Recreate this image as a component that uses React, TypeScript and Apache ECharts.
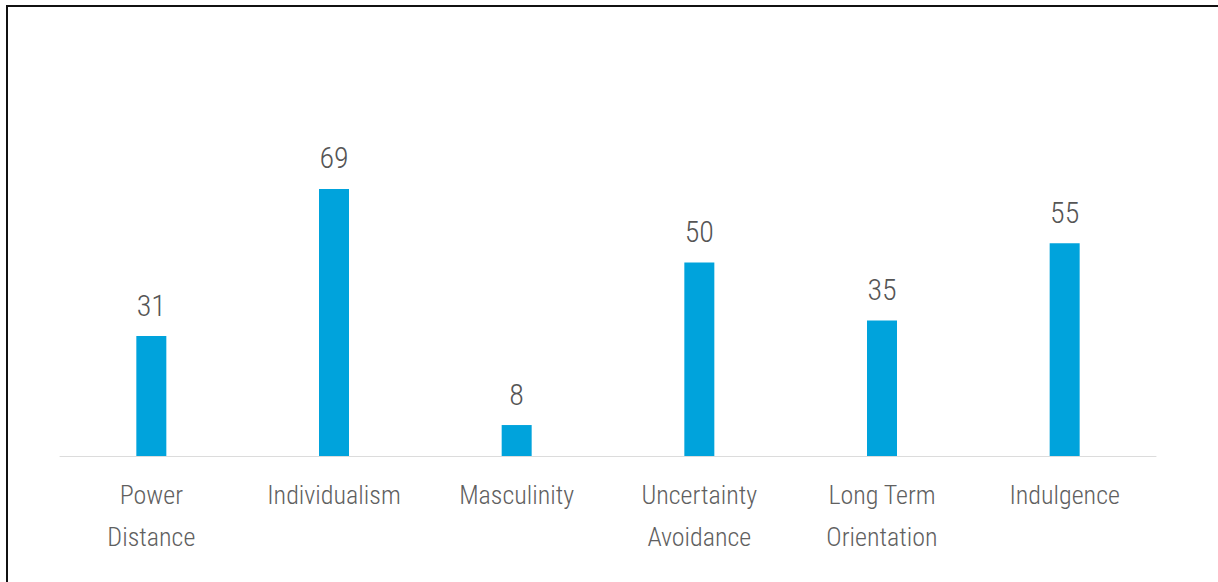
import React, { useEffect, useRef } from "react";
import * as echarts from "echarts";

const categories = [
  "Power\nDistance",
  "Individualism",
  "Masculinity",
  "Uncertainty\nAvoidance",
  "Long Term\nOrientation",
  "Indulgence",
];
const scores = [31, 69, 8, 50, 35, 55];

const FONT = "'Roboto Condensed', 'Liberation Sans Narrow', Roboto, sans-serif";

export default function App() {
  const ref = useRef<HTMLDivElement>(null);

  useEffect(() => {
    if (!ref.current) return;
    const chart = echarts.init(ref.current, undefined, { renderer: "svg" });
    chart.setOption({
      animation: false,
      backgroundColor: "#ffffff",
      grid: { left: 60, right: 62, top: 69, bottom: 126 },
      xAxis: {
        type: "category",
        data: categories,
        axisLine: { lineStyle: { color: "#dcdcdc", width: 1 } },
        axisTick: { show: false },
        axisLabel: {
          color: "#606060",
          fontFamily: FONT,
          fontWeight: 300,
          fontSize: 26,
          lineHeight: 42,
          margin: 18,
          interval: 0,
        },
      },
      yAxis: {
        type: "value",
        min: 0,
        max: 100,
        show: false,
        splitLine: { show: false },
      },
      series: [
        {
          type: "bar",
          data: scores,
          barWidth: 30,
          itemStyle: { color: "#00a3dc" },
          label: {
            show: true,
            position: "top",
            distance: 16,
            color: "#555555",
            fontFamily: FONT,
            fontWeight: 300,
            fontSize: 30,
          },
        },
      ],
      graphic: [
        {
          type: "polyline",
          shape: { points: [[7, 582], [7, 6], [1218, 6]] },
          style: { stroke: "#111111", lineWidth: 2, fill: "none" },
        },
      ],
    });
    return () => chart.dispose();
  }, []);

  return (
    <div
      ref={ref}
      style={{ position: "fixed", left: 0, top: 0, width: 1218, height: 582 }}
    />
  );
}
